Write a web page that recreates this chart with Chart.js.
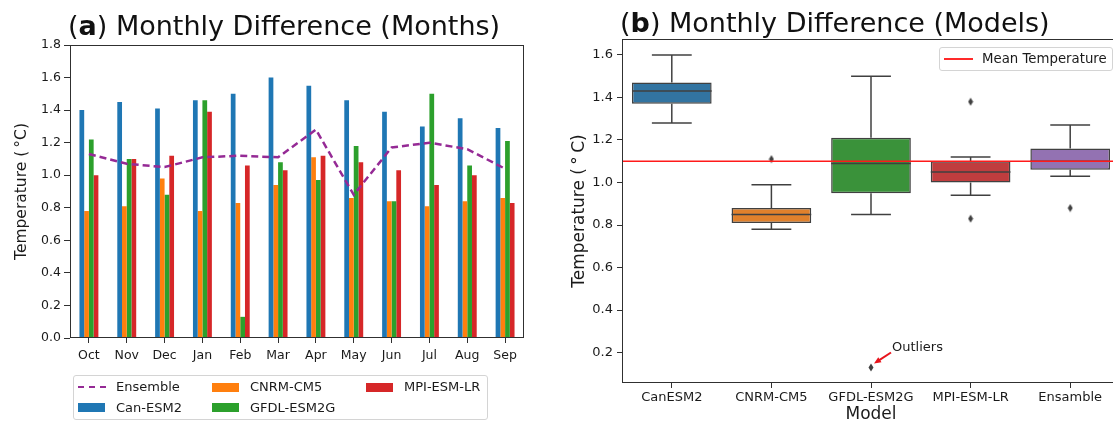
<!DOCTYPE html>
<html>
<head>
<meta charset="utf-8">
<script src="https://cdn.jsdelivr.net/npm/chart.js@4.4.0/dist/chart.umd.min.js"></script>
<style>
html,body{margin:0;padding:0;background:#fff;overflow:hidden;width:1113px;height:423px;position:relative;}
.wrap{position:absolute;top:0;height:423px;}
.title{position:absolute;font-family:"DejaVu Sans";font-size:27px;line-height:27px;color:#111;white-space:nowrap;}
.title b{font-weight:bold;}
.legbox{position:absolute;border:1px solid #d4d4d4;border-radius:3px;box-sizing:border-box;background:rgba(255,255,255,0.8);}
.legitem{position:absolute;font-family:"DejaVu Sans";color:#1a1a1a;white-space:nowrap;}
.sw{position:absolute;}
</style>
</head>
<body>
<div class="wrap" style="left:0;width:560px;"><canvas id="chartA" width="560" height="423"></canvas></div>
<div class="wrap" style="left:560px;width:580px;"><canvas id="chartB" width="580" height="423"></canvas></div>
<div class="title" style="left:68px;top:12px;">(<b>a</b>) Monthly Difference (Months)</div>
<div class="title" style="left:620px;top:9px;">(<b>b</b>) Monthly Difference (Models)</div>
<div id="legA"></div>
<div id="legB"></div>
<script>
// ---------- Panel (a) data ----------
const months = ['Oct','Nov','Dec','Jan','Feb','Mar','Apr','May','Jun','Jul','Aug','Sep'];
const canEsm2   = [1.40,1.45,1.41,1.46,1.50,1.60,1.55,1.46,1.39,1.30,1.35,1.29];
const cnrmCm5   = [0.78,0.81,0.98,0.78,0.83,0.94,1.11,0.86,0.84,0.81,0.84,0.86];
const gfdlEsm2g = [1.22,1.10,0.88,1.46,0.13,1.08,0.97,1.18,0.84,1.50,1.06,1.21];
const mpiEsmLr  = [1.00,1.10,1.12,1.39,1.06,1.03,1.12,1.08,1.03,0.94,1.00,0.83];
const ensemble  = [1.13,1.07,1.05,1.11,1.12,1.11,1.28,0.88,1.17,1.20,1.16,1.04];
const yTicksA   = [0.0,0.2,0.4,0.6,0.8,1.0,1.2,1.4,1.6,1.8];

// ---------- Panel (b) data ----------
const models      = ['CanESM2','CNRM-CM5','GFDL-ESM2G','MPI-ESM-LR','Ensamble'];
const whiskerLow  = [1.28,0.78,0.85,0.94,1.03];
const quartile1   = [1.37,0.81,0.95,1.00,1.06];
const medians     = [1.43,0.85,1.09,1.05,1.10];
const quartile3   = [1.47,0.88,1.21,1.10,1.16];
const whiskerHigh = [1.60,0.99,1.50,1.12,1.27];
const outlierModels = ['CNRM-CM5','GFDL-ESM2G','MPI-ESM-LR','MPI-ESM-LR','Ensamble'];
const outlierValues = [1.11,0.13,1.38,0.83,0.88];
const meanTemperature = 1.10;
const yTicksB = [0.2,0.4,0.6,0.8,1.0,1.2,1.4,1.6];

Chart.defaults.font.family = '"DejaVu Sans"';
Chart.defaults.color = '#1a1a1a';

const axisColor = '#303030';
const framePlugin = {
  id: 'frame',
  afterDraw(chart) {
    const {ctx, chartArea: a} = chart;
    ctx.save();
    ctx.strokeStyle = axisColor;
    ctx.lineWidth = 1;
    const l = Math.round(a.left) + 0.5, t = Math.round(a.top) + 0.5;
    const r = Math.round(a.right) - 0.5, b = Math.round(a.bottom) - 0.5;
    ctx.strokeRect(l, t, r - l, b - t);
    ctx.restore();
  }
};

// ---------- Chart (a) ----------
const colorsA = {can:'#1f77b4', cnrm:'#ff7f0e', gfdl:'#2ca02c', mpi:'#d62728', ens:'#952a95'};
const barDs = (label, data, color) => ({
  type: 'bar', label, data, backgroundColor: color, borderWidth: 0,
  categoryPercentage: 0.5, barPercentage: 1.0, order: 1
});
new Chart(document.getElementById('chartA'), {
  type: 'bar',
  data: {
    labels: months,
    datasets: [
      {type:'line', label:'Ensemble', data: ensemble, borderColor: colorsA.ens, borderWidth: 2.5,
       borderDash: [7,4], pointRadius: 0, tension: 0, fill: false, order: 0},
      barDs('Can-ESM2', canEsm2, colorsA.can),
      barDs('CNRM-CM5', cnrmCm5, colorsA.cnrm),
      barDs('GFDL-ESM2G', gfdlEsm2g, colorsA.gfdl),
      barDs('MPI-ESM-LR', mpiEsmLr, colorsA.mpi)
    ]
  },
  options: {
    responsive: false, animation: false, events: [],
    layout: {padding: {left: 0, top: 45, right: 36, bottom: 55}},
    plugins: {legend: {display: false}, tooltip: {enabled: false}},
    scales: {
      x: {
        offset: true,
        border: {display: false},
        grid: {display: true, drawOnChartArea: false, drawTicks: true, tickLength: 5, offset: false, color: axisColor, tickColor: axisColor},
        ticks: {font: {size: 12.5}, padding: 5, color: '#1a1a1a', maxRotation: 0, autoSkip: false},
        afterFit(s) { s.height = 30; }
      },
      y: {
        min: 0, max: 1.8,
        border: {display: false},
        grid: {display: true, drawOnChartArea: false, drawTicks: true, tickLength: 6, color: axisColor, tickColor: axisColor},
        ticks: {font: {size: 12.5}, padding: 3, color: '#1a1a1a', callback: v => Number(v).toFixed(1)},
        afterBuildTicks(s) { s.ticks = yTicksA.map(v => ({value: v})); },
        title: {display: true, text: 'Temperature (\u2009°C)', font: {size: 15.5}, padding: {top: 13, bottom: 0}, color: '#1a1a1a'},
        afterFit(s) { s.width = 70; }
      }
    }
  },
  plugins: [framePlugin]
});

// HTML legend for (a), matplotlib ncol=3 column-major layout
(function(){
  const box = document.getElementById('legA');
  box.className = 'legbox';
  Object.assign(box.style, {left:'73px', top:'375px', width:'415px', height:'45px'});
  const items = [
    {label:'Ensemble', color: colorsA.ens, kind:'dash', col:0, row:0},
    {label:'Can-ESM2', color: colorsA.can, kind:'patch', col:0, row:1},
    {label:'CNRM-CM5', color: colorsA.cnrm, kind:'patch', col:1, row:0},
    {label:'GFDL-ESM2G', color: colorsA.gfdl, kind:'patch', col:1, row:1},
    {label:'MPI-ESM-LR', color: colorsA.mpi, kind:'patch', col:2, row:0}
  ];
  const colX = [4, 138, 292];
  const rowY = [11, 31.5];
  items.forEach(it => {
    const sw = document.createElement('div');
    sw.className = 'sw';
    if (it.kind === 'patch') {
      Object.assign(sw.style, {left: colX[it.col] + 'px', top: (rowY[it.row] - 4.5) + 'px', width: '27px', height: '9px', background: it.color});
    } else {
      Object.assign(sw.style, {left: colX[it.col] + 'px', top: (rowY[it.row] - 1.25) + 'px', width: '28px', height: '0px',
        borderTop: '2.5px dashed ' + it.color});
    }
    box.appendChild(sw);
    const tx = document.createElement('div');
    tx.className = 'legitem';
    tx.textContent = it.label;
    Object.assign(tx.style, {left: (colX[it.col] + 38) + 'px', top: (rowY[it.row] - 8) + 'px', fontSize: '13px', lineHeight: '16px'});
    box.appendChild(tx);
  });
})();

// ---------- Chart (b) ----------
const boxColors = ['#3274a1','#e1812c','#3a923a','#c03d3e','#9372b2'];
const edgeColor = '#404040';

const diamond = (function(){
  const c = document.createElement('canvas');
  c.width = 6; c.height = 9;
  const g = c.getContext('2d');
  g.fillStyle = edgeColor;
  g.beginPath(); g.moveTo(3,0.5); g.lineTo(5.5,4.5); g.lineTo(3,8.5); g.lineTo(0.5,4.5); g.closePath(); g.fill();
  return c;
})();

const boxPartsPlugin = {
  id: 'boxParts',
  afterDatasetsDraw(chart) {
    const {ctx, chartArea: a, scales: {x, y}} = chart;
    const catW = x.getPixelForValue(1) - x.getPixelForValue(0);
    const seg = (x1, y1, x2, y2) => { ctx.beginPath(); ctx.moveTo(x1, y1); ctx.lineTo(x2, y2); ctx.stroke(); };
    ctx.save();
    ctx.strokeStyle = edgeColor; ctx.lineWidth = 1.5;
    models.forEach((m, i) => {
      const cx = x.getPixelForValue(i);
      const half = catW * 0.4, cap = catW * 0.2;
      seg(cx, y.getPixelForValue(quartile3[i]), cx, y.getPixelForValue(whiskerHigh[i]));
      seg(cx, y.getPixelForValue(quartile1[i]), cx, y.getPixelForValue(whiskerLow[i]));
      seg(cx - cap, y.getPixelForValue(whiskerHigh[i]), cx + cap, y.getPixelForValue(whiskerHigh[i]));
      seg(cx - cap, y.getPixelForValue(whiskerLow[i]), cx + cap, y.getPixelForValue(whiskerLow[i]));
      seg(cx - half, y.getPixelForValue(medians[i]), cx + half, y.getPixelForValue(medians[i]));
    });
    // mean temperature line
    ctx.strokeStyle = '#ff1a1a'; ctx.lineWidth = 1.5;
    seg(a.left, y.getPixelForValue(meanTemperature), a.right, y.getPixelForValue(meanTemperature));
    // "Outliers" annotation pointing at the lowest outlier
    const k = outlierValues.indexOf(Math.min(...outlierValues));
    const px = x.getPixelForValue(models.indexOf(outlierModels[k]));
    const py = y.getPixelForValue(outlierValues[k]);
    const hx = px + 3, hy = py - 4, tx = px + 20, ty = py - 15;
    ctx.strokeStyle = '#e8141c'; ctx.fillStyle = '#e8141c'; ctx.lineWidth = 2;
    const ang = Math.atan2(hy - ty, hx - tx);
    seg(tx, ty, hx - 4 * Math.cos(ang), hy - 4 * Math.sin(ang));
    ctx.beginPath();
    ctx.moveTo(hx, hy);
    ctx.lineTo(hx - 7 * Math.cos(ang) + 3 * Math.sin(ang), hy - 7 * Math.sin(ang) - 3 * Math.cos(ang));
    ctx.lineTo(hx - 7 * Math.cos(ang) - 3 * Math.sin(ang), hy - 7 * Math.sin(ang) + 3 * Math.cos(ang));
    ctx.closePath(); ctx.fill();
    ctx.fillStyle = '#1a1a1a';
    ctx.font = '13px "DejaVu Sans"';
    ctx.textBaseline = 'middle'; ctx.textAlign = 'left';
    ctx.fillText('Outliers', tx + 1, ty - 5);
    ctx.restore();
  }
};

new Chart(document.getElementById('chartB'), {
  type: 'bar',
  data: {
    labels: models,
    datasets: [
      {type: 'bar', label: 'Box', data: quartile1.map((v, i) => [v, quartile3[i]]),
       backgroundColor: boxColors, borderColor: edgeColor, borderWidth: 1.5, borderSkipped: false,
       categoryPercentage: 0.8, barPercentage: 1.0, order: 2},
      {type: 'line', label: 'Outliers', data: outlierModels.map((m, k) => ({x: m, y: outlierValues[k]})),
       showLine: false, pointStyle: diamond, pointRadius: 4, order: 1}
    ]
  },
  options: {
    responsive: false, animation: false, events: [],
    layout: {padding: {left: 0, top: 39, right: 20, bottom: 0}},
    plugins: {legend: {display: false}, tooltip: {enabled: false}},
    scales: {
      x: {
        offset: true,
        border: {display: false},
        grid: {display: true, drawOnChartArea: false, drawTicks: true, tickLength: 5, offset: false, color: axisColor, tickColor: axisColor},
        ticks: {font: {size: 13}, padding: 2, color: '#1a1a1a', maxRotation: 0, autoSkip: false},
        title: {display: true, text: 'Model', font: {size: 17}, padding: {top: 0, bottom: -2}, color: '#1a1a1a'},
        afterFit(s) { s.height = 40; }
      },
      y: {
        min: 0.057, max: 1.675,
        border: {display: false},
        grid: {display: true, drawOnChartArea: false, drawTicks: true, tickLength: 5, color: axisColor, tickColor: axisColor},
        ticks: {font: {size: 13}, padding: 4, color: '#1a1a1a', callback: v => Number(v).toFixed(1)},
        afterBuildTicks(s) { s.ticks = yTicksB.map(v => ({value: v})); },
        title: {display: true, text: 'Temperature (\u2009°\u2009C)', font: {size: 17}, padding: {top: 9, bottom: 0}, color: '#1a1a1a'},
        afterFit(s) { s.width = 62; }
      }
    }
  },
  plugins: [framePlugin, boxPartsPlugin]
});

// HTML legend for (b)
(function(){
  const box = document.getElementById('legB');
  box.className = 'legbox';
  Object.assign(box.style, {left:'939px', top:'47px', width:'174px', height:'24px'});
  const sw = document.createElement('div');
  sw.className = 'sw';
  Object.assign(sw.style, {left:'4px', top:'10px', width:'29px', height:'2px', background:'#ff2a2a'});
  box.appendChild(sw);
  const tx = document.createElement('div');
  tx.className = 'legitem';
  tx.textContent = 'Mean Temperature';
  Object.assign(tx.style, {left:'42px', top:'3px', fontSize:'13.3px', lineHeight:'16px'});
  box.appendChild(tx);
})();
</script>
</body>
</html>
